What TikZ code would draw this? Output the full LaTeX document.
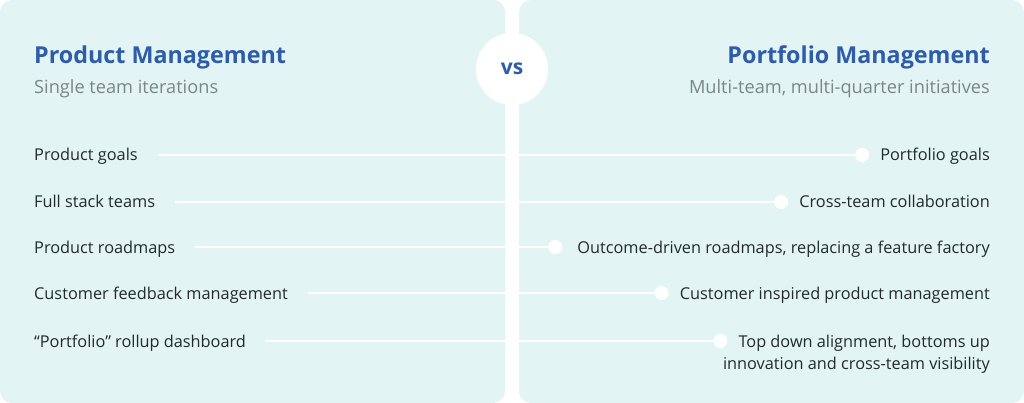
\documentclass[tikz,border=0pt]{standalone}
\usepackage{fontspec}
\setmainfont{Open Sans}
\definecolor{panel}{HTML}{E2F4F4}
\definecolor{titleblue}{HTML}{2E5CAA}
\definecolor{subgrey}{HTML}{7C8688}
\definecolor{itemtext}{HTML}{222A2F}
\tikzset{
  title/.style={font=\bfseries\fontsize{23.3}{28}\selectfont, text=titleblue, inner sep=0pt},
  subtitle/.style={font=\fontsize{18.2}{22}\selectfont, text=subgrey, inner sep=0pt},
  item/.style={font=\fontsize{16.3}{20}\selectfont, text=itemtext, inner sep=0pt},
  dot/.style={circle, fill=white, minimum size=14pt, inner sep=0pt},
  link/.style={draw=white, line width=2pt},
}
\begin{document}
\begin{tikzpicture}[x=1pt,y=-1pt]
\useasboundingbox (0,0) rectangle (1024,403);
\fill[white] (0,0) rectangle (1024,403);
\fill[panel, rounded corners=12pt] (0,0) rectangle (505,403);
\fill[panel, rounded corners=12pt] (519,0) rectangle (1024,403);

% titles
\node[title, anchor=base west] (tl) at (34,64) {Product Management};
\node[subtitle, anchor=base west] (sl) at (34,94) {Single team iterations};
\node[title, anchor=base east] (tr) at (990,64) {Portfolio Management};
\node[subtitle, anchor=base east] (sr) at (990,94) {Multi-team, multi-quarter initiatives};

% left items
\node[item, anchor=base west] (L1) at (34,161) {Product goals};
\node[item, anchor=base west] (L2) at (34,208) {Full stack teams};
\node[item, anchor=base west] (L3) at (34,253) {Product roadmaps};
\node[item, anchor=base west] (L4) at (34,299) {Customer feedback management};
\node[item, anchor=base west] (L5) at (34,347) {“Portfolio” rollup dashboard};

% right items
\node[item, anchor=base east] (R1) at (990,161) {Portfolio goals};
\node[item, anchor=base east] (R2) at (990,208) {Cross-team collaboration};
\node[item, anchor=base east] (R3) at (990,253) {Outcome-driven roadmaps, replacing a feature factory};
\node[item, anchor=base east] (R4) at (990,299) {Customer inspired product management};
\node[item, anchor=base east] (R5) at (990,347) {Top down alignment, bottoms up};
\node[item, anchor=base east] (R5b) at (990,369) {innovation and cross-team visibility};

% dots
\node[dot] (D1) at ([xshift=-18pt]R1.west |- 0,155) {};
\node[dot] (D2) at ([xshift=-18pt]R2.west |- 0,202) {};
\node[dot] (D3) at ([xshift=-22pt]R3.west |- 0,247) {};
\node[dot] (D4) at ([xshift=-18pt]R4.west |- 0,293) {};
\node[dot] (D5) at ([xshift=-18pt]R5.west |- 0,341) {};

% links
\draw[link] ([xshift=20pt]L1.east |- 0,155) -- (D1);
\draw[link] ([xshift=20pt]L2.east |- 0,202) -- (D2);
\draw[link] ([xshift=20pt]L3.east |- 0,247) -- (D3);
\draw[link] ([xshift=20pt]L4.east |- 0,293) -- (D4);
\draw[link] ([xshift=20pt]L5.east |- 0,341) -- (D5);

% vs circle
\node[circle, fill=white, minimum size=72pt, inner sep=0pt, font=\bfseries\fontsize{21}{25}\selectfont, text=titleblue] (vs) at (512,69) {vs};
\end{tikzpicture}
\end{document}
